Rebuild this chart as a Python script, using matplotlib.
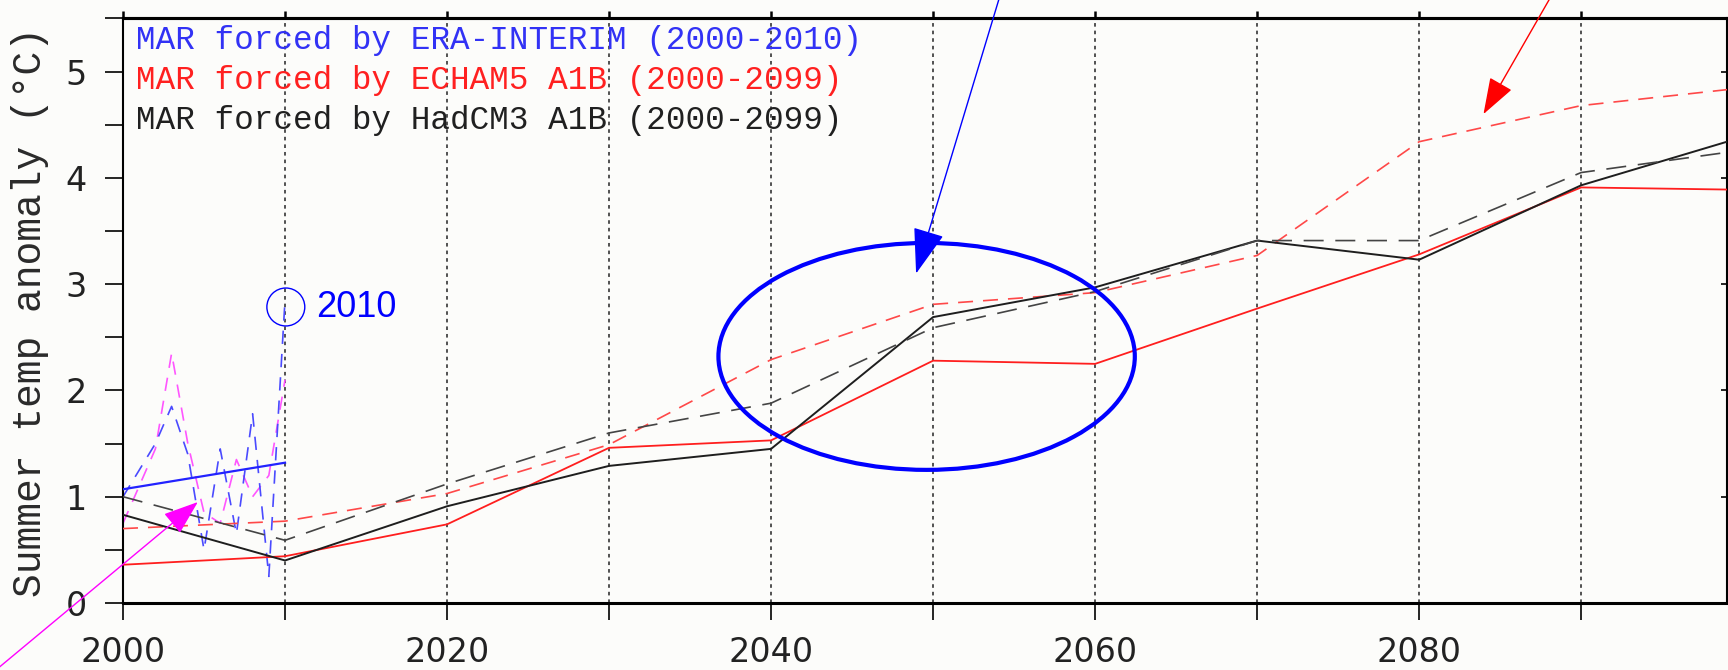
import matplotlib
matplotlib.use("Agg")
import matplotlib.pyplot as plt
from matplotlib.patches import Ellipse

# decadal means of the MAR runs (last point = 2099)
years = [2000, 2010, 2020, 2030, 2040, 2050, 2060, 2070, 2080, 2090, 2099]
echam5 = [0.36, 0.44, 0.74, 1.46, 1.53, 2.28, 2.25, 2.77, 3.28, 3.91, 3.89]
echam5_dash = [0.70, 0.77, 1.03, 1.49, 2.29, 2.81, 2.92, 3.27, 4.34, 4.68, 4.83]
hadcm3 = [0.83, 0.40, 0.91, 1.29, 1.45, 2.69, 2.97, 3.41, 3.23, 3.93, 4.34]
hadcm3_dash = [1.00, 0.59, 1.12, 1.60, 1.88, 2.59, 2.93, 3.41, 3.41, 4.05, 4.24]

# yearly values 2000-2010
era_years = [2000, 2001, 2002, 2003, 2004, 2005, 2006, 2007, 2008, 2009, 2010]
era = [1.00, 1.25, 1.50, 1.85, 1.40, 0.50, 1.45, 0.65, 1.78, 0.25, 2.85]
era_pink = [0.75, 1.10, 1.45, 2.35, 1.50, 0.85, 0.75, 1.35, 1.00, 1.20, 2.10]
era_trend_years = [2000, 2010]
era_trend = [1.07, 1.32]

x_ticks = [2000, 2010, 2020, 2030, 2040, 2050, 2060, 2070, 2080, 2090]
x_labels = ["2000", "", "2020", "", "2040", "", "2060", "", "2080", ""]
y_ticks = [0, 1, 2, 3, 4, 5]
y_minor = [0.5, 1.5, 2.5, 3.5, 4.5, 5.5]

legend_lines = ["MAR forced by ERA-INTERIM (2000-2010)",
                "MAR forced by ECHAM5 A1B (2000-2099)",
                "MAR forced by HadCM3 A1B (2000-2099)"]
legend_colors = ["#3232f5", "#ff2020", "#202020"]

BLUE = "#0000ff"
RED = "#ff1e1e"
BLACK = "#1e1e1e"

fig = plt.figure(figsize=(17.28, 6.70), dpi=100)
fig.patch.set_facecolor("#fcfcfa")
ax = fig.add_axes([123/1728, 0.100, 1604/1728, 0.8725])
ax.set_facecolor("#fcfcfa")

# dotted decade lines
for x in x_ticks[1:]:
    ax.axvline(x, color="#444444", lw=1.3, ls=(0, (2, 2.2)), zorder=1)

ax.plot(years, echam5, color=RED, lw=1.3, zorder=3)
ax.plot(years, echam5_dash, color="#ff4848", lw=1.2, ls=(0, (9, 6)), zorder=3)
ax.plot(years, hadcm3, color=BLACK, lw=1.4, zorder=3)
ax.plot(years, hadcm3_dash, color="#444444", lw=1.2, ls=(0, (12, 7)), zorder=3)

ax.plot(era_years, era_pink, color="#ff55ff", lw=1.2, ls=(0, (8, 6)), zorder=2)
ax.plot(era_years, era, color="#4a4aff", lw=1.2, ls=(0, (8, 6)), zorder=2)
ax.plot(era_trend_years, era_trend, color="#2222ff", lw=1.6, zorder=3)

ax.set_xlim(2000, 2099)
ax.set_ylim(0, 5.5)
ax.set_xticks(x_ticks)
ax.set_xticklabels(x_labels)
ax.set_yticks(y_ticks)
ax.set_yticks(y_minor, minor=True)
ax.tick_params(axis="x", length=12.5, width=1.2, pad=11, labelsize=24, direction="out")
ax.tick_params(axis="y", which="both", length=13, width=1.2, pad=13, labelsize=24, direction="out")
for lab in ax.get_xticklabels() + ax.get_yticklabels():
    lab.set_fontfamily("DejaVu Sans")
    lab.set_color("#222222")

for side in ["left", "right"]:
    ax.spines[side].set_linewidth(1.5)
for side in ["top", "bottom"]:
    ax.spines[side].set_linewidth(2.2)

top = ax.secondary_xaxis("top")
top.set_xticks(x_ticks)
top.set_xticklabels([])
top.tick_params(length=5, width=1.8, direction="out")
top.spines["top"].set_linewidth(2.2)

right = ax.secondary_yaxis("right")
right.set_yticks(y_ticks)
right.set_yticklabels([])
right.tick_params(length=4, width=1.2, direction="in")

fig.text(30/1728, 0.535, "Summer temp anomaly (\u00b0C)", rotation=90,
         ha="center", va="center", fontsize=28.5, family="Liberation Mono", color="#2a2a2a")

for i, (txt, col) in enumerate(zip(legend_lines, legend_colors)):
    fig.text(136/1728, 1 - (41 + 40*i)/670, txt, ha="left", va="center",
             fontsize=23.5, family="Liberation Mono", color=col)

# highlighted period and 2010 value
ax.add_patch(Ellipse((2049.6, 2.32), 25.7, 2.135, fill=False, ec=BLUE, lw=3, zorder=5))
ax.add_patch(Ellipse((2010.05, 2.785), 2.34, 0.357, fill=False, ec=BLUE, lw=1, zorder=5))
ax.text(2011.9, 2.78, "2010", color=BLUE, fontsize=26, family="Liberation Sans",
        ha="left", va="center")

# arrows
ax.annotate("", xy=(2048.95, 3.10), xytext=(2054.2, 5.75),
            arrowprops=dict(arrowstyle="-|>,head_length=29,head_width=10", mutation_scale=1,
                            color=BLUE, lw=1, shrinkA=0, shrinkB=0),
            annotation_clip=False, zorder=6)
ax.annotate("", xy=(2083.97, 4.60), xytext=(2088.3, 5.75),
            arrowprops=dict(arrowstyle="-|>,head_length=23,head_width=8", mutation_scale=1,
                            color="#ff0000", lw=1, shrinkA=0, shrinkB=0),
            annotation_clip=False, zorder=6)
ax.annotate("", xy=(2004.62, 0.95), xytext=(1992.0, -0.65),
            arrowprops=dict(arrowstyle="-|>,head_length=22,head_width=8", mutation_scale=1,
                            color="#ff00ff", lw=1, shrinkA=0, shrinkB=0),
            annotation_clip=False, zorder=6)

fig.savefig("out.png", dpi=100, facecolor=fig.get_facecolor())
